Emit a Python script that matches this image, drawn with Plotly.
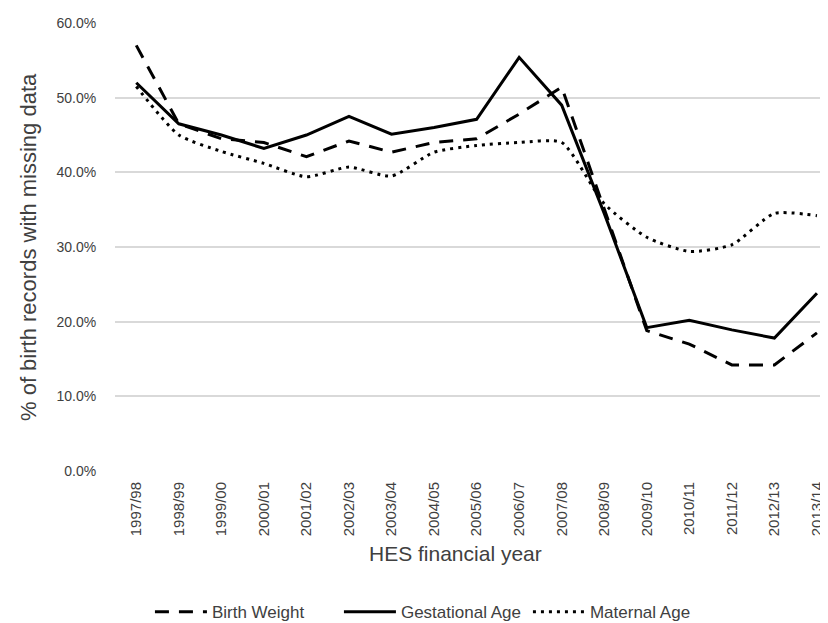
import plotly.graph_objects as go

years = ["1997/98", "1998/99", "1999/00", "2000/01", "2001/02", "2002/03", "2003/04",
         "2004/05", "2005/06", "2006/07", "2007/08", "2008/09", "2009/10", "2010/11",
         "2011/12", "2012/13", "2013/14"]
birth_weight = [57.0, 46.5, 44.5, 44.0, 42.1, 44.2, 42.7, 44.0, 44.5, 47.8, 51.4, 35.0,
                18.8, 17.0, 14.2, 14.2, 18.5]
gestational_age = [52.0, 46.5, 45.0, 43.2, 45.0, 47.5, 45.1, 46.0, 47.1, 55.4, 49.0, 34.5,
                   19.2, 20.2, 18.9, 17.8, 23.8]
maternal_age = [51.5, 45.0, 42.8, 41.2, 39.4, 40.7, 39.5, 42.7, 43.6, 44.0, 44.0, 35.8,
                31.3, 29.4, 30.3, 34.5, 34.2]
y_ticks = [0, 10, 20, 30, 40, 50, 60]

fig = go.Figure()
fig.add_trace(go.Scatter(x=years, y=birth_weight, name="Birth Weight", mode="lines",
                         line=dict(color="black", width=3, dash="14px,10px")))
fig.add_trace(go.Scatter(x=years, y=gestational_age, name="Gestational Age", mode="lines",
                         line=dict(color="black", width=3)))
fig.add_trace(go.Scatter(x=years, y=maternal_age, name="Maternal Age", mode="lines",
                         line=dict(color="black", width=3, dash="3px,5px", shape="spline", smoothing=0.6)))

fig.update_layout(
    width=828, height=623,
    margin=dict(l=107, r=8, t=15, b=160, autoexpand=False),
    paper_bgcolor="white", plot_bgcolor="white",
    font=dict(family="Liberation Sans, Arial, sans-serif", color="#404040"),
    showlegend=True,
    legend=dict(orientation="h", x=0.049, xanchor="left", y=-0.315, yanchor="middle",
                font=dict(size=17, color="#404040"), itemwidth=52,
                entrywidth=122, entrywidthmode="pixels"),
    xaxis=dict(type="category", range=[-0.5, 16.26], tickangle=-90, automargin=False,
               tickfont=dict(size=15, color="#404040"), showgrid=False,
               showline=False, ticks="outside", ticklen=4, tickcolor="rgba(0,0,0,0)"),
    yaxis=dict(range=[0, 60], tickvals=y_ticks, automargin=False,
               ticktext=[f"{v:.1f}%" for v in y_ticks],
               tickfont=dict(size=14, color="#404040"), gridcolor="#d9d9d9",
               gridwidth=1.5, zeroline=False, showline=False, ticks="outside", ticklen=15,
               tickcolor="rgba(0,0,0,0)"),
    annotations=[
        dict(text="HES financial year", xref="paper", yref="paper", x=0.477, y=-0.185,
             showarrow=False, font=dict(size=21, color="#404040"), yanchor="middle"),
        dict(text="% of birth records with missing data", xref="paper", yref="paper",
             x=-0.122, y=0.5, showarrow=False, textangle=-90,
             font=dict(size=22, color="#404040"), xanchor="center", yanchor="middle"),
    ],
)

fig.write_html("out.html")
